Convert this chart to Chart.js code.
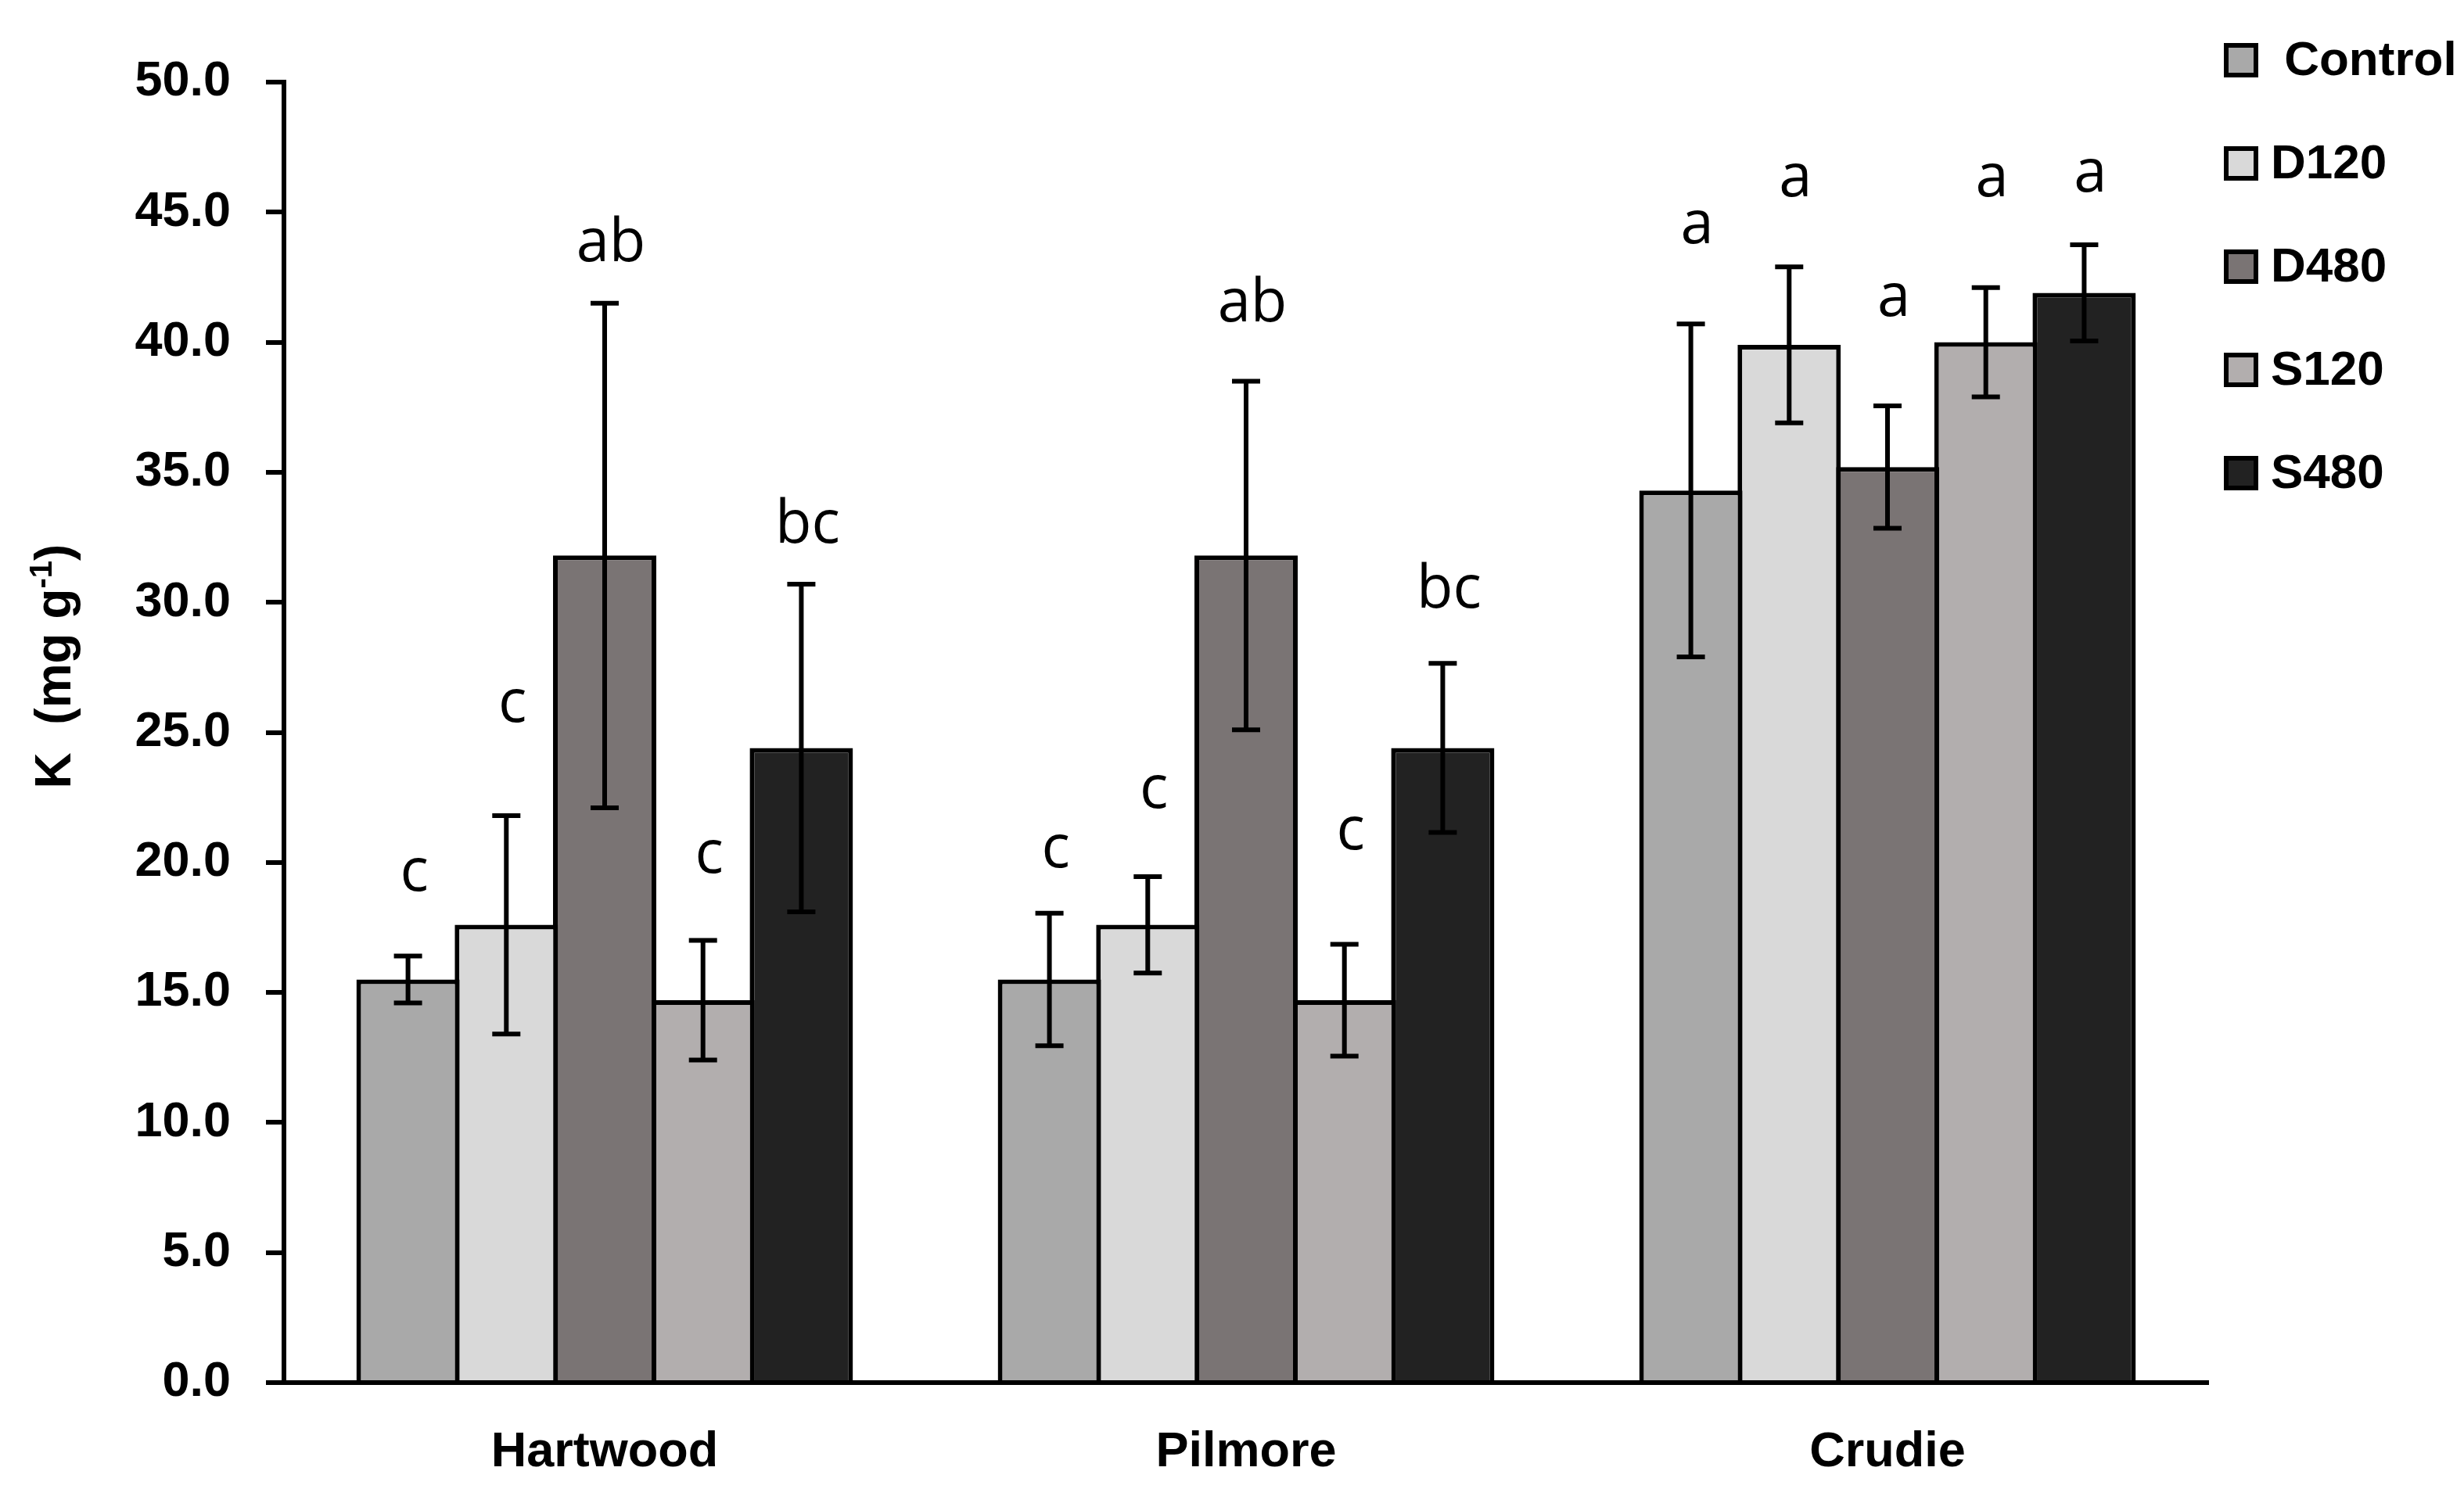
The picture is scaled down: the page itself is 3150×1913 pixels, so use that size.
<!DOCTYPE html>
<html>
<head>
<meta charset="utf-8">
<script src="https://cdn.jsdelivr.net/npm/chart.js@4.4.1/dist/chart.umd.min.js"></script>
<style>
  html, body { margin: 0; padding: 0; background: #fff; }
  #wrap { width: 3150px; height: 1913px; position: relative; }
</style>
</head>
<body>
<div id="wrap"><canvas id="chart"></canvas></div>
<script>
// --- DATA ---
const sites = ['Hartwood', 'Pilmore', 'Crudie'];
const treatments = [' Control', 'D120', 'D480', 'S120', 'S480'];

// mean K (mg g-1) per site
const controlK = [15.5, 15.5, 34.3];
const d120K    = [17.6, 17.6, 39.9];
const d480K    = [31.8, 31.8, 35.2];
const s120K    = [14.7, 14.7, 40.0];
const s480K    = [24.4, 24.4, 41.9];

// standard errors
const controlSE = [0.9, 2.55, 6.4];
const d120SE    = [4.2, 1.85, 3.0];
const d480SE    = [9.7, 6.7, 2.35];
const s120SE    = [2.3, 2.15, 2.1];
const s480SE    = [6.3, 3.25, 1.85];

// significance letters and the level (axis units) where each one sits
const controlLetters = ['c', 'c', 'a'];
const d120Letters    = ['c', 'c', 'a'];
const d480Letters    = ['ab', 'ab', 'a'];
const s120Letters    = ['c', 'c', 'a'];
const s480Letters    = ['bc', 'bc', 'a'];
const controlLetterAt = [18.9, 19.8, 43.8];
const d120LetterAt    = [25.4, 22.1, 45.6];
const d480LetterAt    = [43.1, 40.8, 41.0];
const s120LetterAt    = [19.6, 20.5, 45.6];
const s480LetterAt    = [32.3, 29.8, 45.8];

const yTicks = [0, 5, 10, 15, 20, 25, 30, 35, 40, 45, 50];

// --- STYLE ---
const barColors = ['#a9a9a9', '#d9d9d9', '#7a7474', '#b2aeae', '#222222'];
const boldFont = 'Liberation Sans, Arial, sans-serif';

function makeSet(i, data, errors, letters, letterAt) {
    return {
        label: treatments[i],
        data: data,
        errors: errors,
        letters: letters,
        letterAt: letterAt,
        backgroundColor: barColors[i],
        borderColor: '#000',
        borderWidth: 6,
        borderSkipped: 'start',
        categoryPercentage: 0.7665,
        barPercentage: 1.05
    };
}

// --- PLUGINS ---
const errorBarPlugin = {
    id: 'errorBars',
    afterDatasetsDraw(chart) {
        const ctx = chart.ctx;
        const y = chart.scales.y;
        ctx.save();
        ctx.strokeStyle = '#000';
        ctx.lineWidth = 6;
        ctx.lineCap = 'butt';
        chart.data.datasets.forEach((ds, i) => {
            chart.getDatasetMeta(i).data.forEach((bar, j) => {
                const top = y.getPixelForValue(ds.data[j] + ds.errors[j]);
                const bot = y.getPixelForValue(ds.data[j] - ds.errors[j]);
                ctx.beginPath();
                ctx.moveTo(bar.x, top);
                ctx.lineTo(bar.x, bot);
                ctx.moveTo(bar.x - 18, top);
                ctx.lineTo(bar.x + 18, top);
                ctx.moveTo(bar.x - 18, bot);
                ctx.lineTo(bar.x + 18, bot);
                ctx.stroke();
            });
        });
        // letters
        ctx.fillStyle = '#000';
        ctx.font = '76px "Open Sans", sans-serif';
        ctx.textAlign = 'center';
        ctx.textBaseline = 'alphabetic';
        chart.data.datasets.forEach((ds, i) => {
            chart.getDatasetMeta(i).data.forEach((bar, j) => {
                ctx.fillText(ds.letters[j], bar.x + 8, y.getPixelForValue(ds.letterAt[j]));
            });
        });
        ctx.restore();
    }
};

const sideLegendPlugin = {
    id: 'sideLegend',
    afterDraw(chart) {
        const ctx = chart.ctx;
        ctx.save();
        ctx.font = 'bold 62px ' + boldFont;
        ctx.textBaseline = 'middle';
        ctx.textAlign = 'left';
        chart.data.datasets.forEach((ds, i) => {
            const cy = 77 + i * 132;
            ctx.fillStyle = '#000';
            ctx.fillRect(2843, cy - 22, 44, 44);
            ctx.fillStyle = ds.backgroundColor;
            ctx.fillRect(2849, cy - 16, 32, 32);
            ctx.fillStyle = '#000';
            ctx.fillText(ds.label, 2903, cy + 2);
        });
        ctx.restore();
    }
};

const yTitlePlugin = {
    id: 'yTitle',
    afterDraw(chart) {
        const ctx = chart.ctx;
        const main = 'bold 64px ' + boldFont;
        const sup = 'bold 40px ' + boldFont;
        const parts = [['K  (mg g', main, 0], ['-1', sup, -24], [')', main, 0]];
        ctx.save();
        ctx.translate(90, 852);
        ctx.rotate(-Math.PI / 2);
        ctx.fillStyle = '#000';
        ctx.textBaseline = 'alphabetic';
        let total = 0;
        parts.forEach(p => { ctx.font = p[1]; total += ctx.measureText(p[0]).width; });
        let x = -total / 2;
        parts.forEach(p => {
            ctx.font = p[1];
            ctx.fillText(p[0], x, p[2]);
            x += ctx.measureText(p[0]).width;
        });
        ctx.restore();
    }
};

// --- CHART ---
new Chart(document.getElementById('chart'), {
    type: 'bar',
    data: {
        labels: sites,
        datasets: [
            makeSet(0, controlK, controlSE, controlLetters, controlLetterAt),
            makeSet(1, d120K, d120SE, d120Letters, d120LetterAt),
            makeSet(2, d480K, d480SE, d480Letters, d480LetterAt),
            makeSet(3, s120K, s120SE, s120Letters, s120LetterAt),
            makeSet(4, s480K, s480SE, s480Letters, s480LetterAt)
        ]
    },
    options: {
        responsive: true,
        maintainAspectRatio: false,
        devicePixelRatio: 1,
        animation: false,
        layout: { padding: { top: 105, right: 327, bottom: 0, left: 0 } },
        plugins: {
            legend: { display: false },
            tooltip: { enabled: false }
        },
        scales: {
            x: {
                grid: { display: false, drawTicks: false, tickLength: 0 },
                border: { display: true, color: '#000', width: 6 },
                ticks: {
                    color: '#000',
                    padding: 52,
                    font: { family: boldFont, size: 63, weight: 'bold' }
                },
                afterFit(scale) { scale.height = 1913 - 1768; }
            },
            y: {
                min: 0,
                max: 50,
                afterBuildTicks(scale) { scale.ticks = yTicks.map(v => ({ value: v })); },
                grid: {
                    drawOnChartArea: false,
                    drawTicks: true,
                    tickLength: 23,
                    lineWidth: 6,
                    color: '#000'
                },
                border: { display: true, color: '#000', width: 6 },
                ticks: {
                    color: '#000',
                    padding: 45,
                    font: { family: boldFont, size: 63, weight: 'bold' },
                    callback: v => Number(v).toFixed(1)
                },
                afterFit(scale) { scale.width = 363; }
            }
        }
    },
    plugins: [errorBarPlugin, sideLegendPlugin, yTitlePlugin]
});
</script>
</body>
</html>
